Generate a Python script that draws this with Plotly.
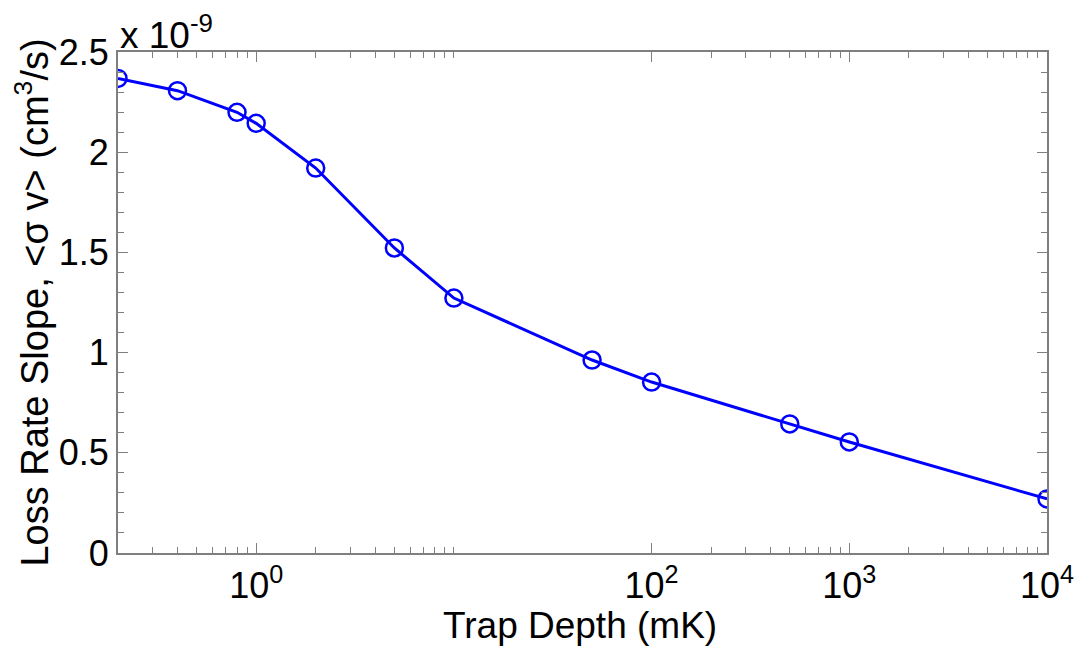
import plotly.graph_objects as go

# Data (x in mK, y in units of 1e-9 cm^3/s)
trap_depth = [0.2, 0.4, 0.8, 1, 2, 5, 10, 50, 100, 500, 1000, 10000]
loss_slope = [2.368, 2.307, 2.199, 2.144, 1.921, 1.522, 1.272, 0.963, 0.853, 0.644, 0.554, 0.270]

x_major = [1, 100, 1000, 10000]
x_major_text = ["10<sup>0</sup>", "10<sup>2</sup>", "10<sup>3</sup>", "10<sup>4</sup>"]
x_minor = [0.3, 0.4, 0.5, 0.6, 0.7, 0.8, 0.9, 2, 3, 4, 5, 6, 7, 8, 9, 10,
           200, 300, 400, 500, 600, 700, 800, 900,
           2000, 3000, 4000, 5000, 6000, 7000, 8000, 9000]
y_major = [0, 0.5, 1, 1.5, 2, 2.5]
y_major_text = ["0", "0.5", "1", "1.5", "2", "2.5"]

FONT = "Liberation Sans, Arial, Helvetica, sans-serif"
AXIS_COLOR = "#7f7f7f"
BLUE = "#0000ff"
TICK_SIZE = 36
TITLE_SIZE = 38

fig = go.Figure()
fig.add_trace(go.Scatter(
    x=trap_depth, y=loss_slope, mode="lines+markers",
    line=dict(color=BLUE, width=3),
    marker=dict(symbol="circle-open", size=17, color=BLUE, line=dict(width=2.5, color=BLUE)),
    showlegend=False,
))

# page body has an 8px margin, so the figure is 8px smaller than the window
fig.update_layout(
    width=1078, height=644,
    margin=dict(l=110, r=36, t=44, b=99),
    paper_bgcolor="white", plot_bgcolor="white",
    font=dict(family=FONT, size=TICK_SIZE, color="black"),
    xaxis=dict(
        type="log", range=[-0.69897, 4],
        tickmode="array", tickvals=x_major, ticktext=x_major_text,
        ticks="inside", ticklen=10, tickwidth=1, tickcolor=AXIS_COLOR,
        minor=dict(tickmode="array", tickvals=x_minor, ticks="inside", ticklen=6,
                   tickwidth=1, tickcolor=AXIS_COLOR, showgrid=False),
        showline=True, linecolor=AXIS_COLOR, linewidth=2, mirror="ticks",
        showgrid=False, zeroline=False,
        tickfont=dict(family=FONT, size=TICK_SIZE, color="black"),
    ),
    yaxis=dict(
        range=[0, 2.5],
        tickmode="array", tickvals=y_major, ticktext=y_major_text,
        ticks="inside", ticklen=10, tickwidth=1, tickcolor=AXIS_COLOR,
        minor=dict(dtick=0.1, ticks="inside", ticklen=6, tickwidth=1,
                   tickcolor=AXIS_COLOR, showgrid=False),
        showline=True, linecolor=AXIS_COLOR, linewidth=2, mirror="ticks",
        showgrid=False, zeroline=False,
        tickfont=dict(family=FONT, size=TICK_SIZE, color="black"),
        title=dict(text="Loss Rate Slope, <σ v> (cm<sup>3</sup>/s)",
                   font=dict(family=FONT, size=TITLE_SIZE, color="black"), standoff=4),
    ),
    annotations=[
        dict(
            text="x 10<sup>-9</sup>", xref="paper", yref="paper", x=0, y=1,
            xanchor="left", yanchor="bottom", showarrow=False, yshift=-6,
            font=dict(family=FONT, size=37, color="black"),
        ),
        dict(
            text="Trap Depth (mK)", xref="paper", yref="paper", x=0.497, y=0,
            xanchor="center", yanchor="middle", showarrow=False, yshift=-72,
            font=dict(family=FONT, size=37, color="black"),
        ),
    ],
)

fig.write_html("out.html")
